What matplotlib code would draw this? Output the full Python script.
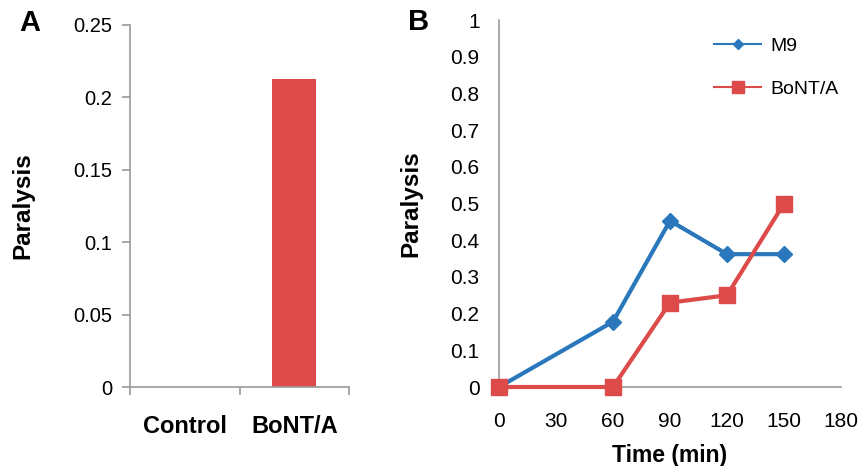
import matplotlib.pyplot as plt

plt.rcParams['font.family'] = ['Liberation Sans', 'DejaVu Sans']

# panel A
categories = ['Control', 'BoNT/A']
bar_values = [0.0, 0.213]

# panel B
times = [0, 60, 90, 120, 150]
m9 = [0.0, 0.178, 0.453, 0.362, 0.362]
bont = [0.0, 0.0, 0.23, 0.25, 0.50]

blue = '#2a78bb'
red = '#dd4a4a'
grey = '#9a9a9a'

fig = plt.figure(figsize=(8.58, 4.66), dpi=100)

axA = fig.add_axes([0.1515, 0.1695, 0.2553, 0.777])
axA.bar([0, 1], bar_values, width=0.4, color=red)
axA.set_xlim(-0.5, 1.5)
axA.set_ylim(0, 0.25)
axA.set_yticks([0, 0.05, 0.1, 0.15, 0.2, 0.25])
axA.set_yticklabels(['0', '0.05', '0.1', '0.15', '0.2', '0.25'])
axA.set_xticks([-0.5, 0.5, 1.5], minor=False)
axA.set_xticklabels([])
axA.set_xticks([0, 1], minor=True)
axA.set_xticklabels(categories, minor=True, fontweight='bold', fontsize=17)
axA.tick_params(axis='x', which='minor', length=0, pad=20)
axA.tick_params(axis='x', which='major', length=6, color=grey, width=1.2)
axA.tick_params(axis='y', length=6, color=grey, width=1.2, labelsize=14.5, pad=7)
axA.set_ylabel('Paralysis', fontweight='bold', fontsize=17.5, labelpad=28)
for s in ['top', 'right']:
    axA.spines[s].set_visible(False)
for s in ['left', 'bottom']:
    axA.spines[s].set_color(grey)
    axA.spines[s].set_linewidth(1.2)
fig.text(0.035, 0.95, 'A', fontsize=21, fontweight='bold', va='center', ha='center')

axB = fig.add_axes([0.5816, 0.1695, 0.3986, 0.7875])
axB.plot(times, m9, color=blue, lw=3, marker='D', ms=8, label='M9', clip_on=False, zorder=3)
axB.plot(times, bont, color=red, lw=3, marker='s', ms=12, label='BoNT/A', clip_on=False, zorder=4)
axB.set_xlim(0, 180)
axB.set_ylim(0, 1)
axB.set_xticks(range(0, 181, 30))
axB.set_yticks([i / 10 for i in range(11)])
axB.set_yticklabels(['0'] + ['0.%d' % i for i in range(1, 10)] + ['1'])
axB.tick_params(axis='both', length=0, labelsize=15)
axB.tick_params(axis='y', pad=14)
axB.tick_params(axis='x', pad=18)
axB.set_xlabel('Time (min)', fontweight='bold', fontsize=16.5, labelpad=9)
axB.set_ylabel('Paralysis', fontweight='bold', fontsize=17.5, labelpad=20)
for s in ['top', 'right']:
    axB.spines[s].set_visible(False)
for s in ['left', 'bottom']:
    axB.spines[s].set_color(grey)
    axB.spines[s].set_linewidth(1.2)
leg = axB.legend(loc='upper right', bbox_to_anchor=(1.045, 1.0), frameon=False, fontsize=14,
                 handlelength=2.4, handletextpad=0.5, labelspacing=1.3, markerscale=0.7)
for h in leg.legend_handles:
    h.set_linewidth(1.5)
fig.text(0.488, 0.953, 'B', fontsize=21, fontweight='bold', va='center', ha='center')

fig.savefig('out.png', dpi=100)
